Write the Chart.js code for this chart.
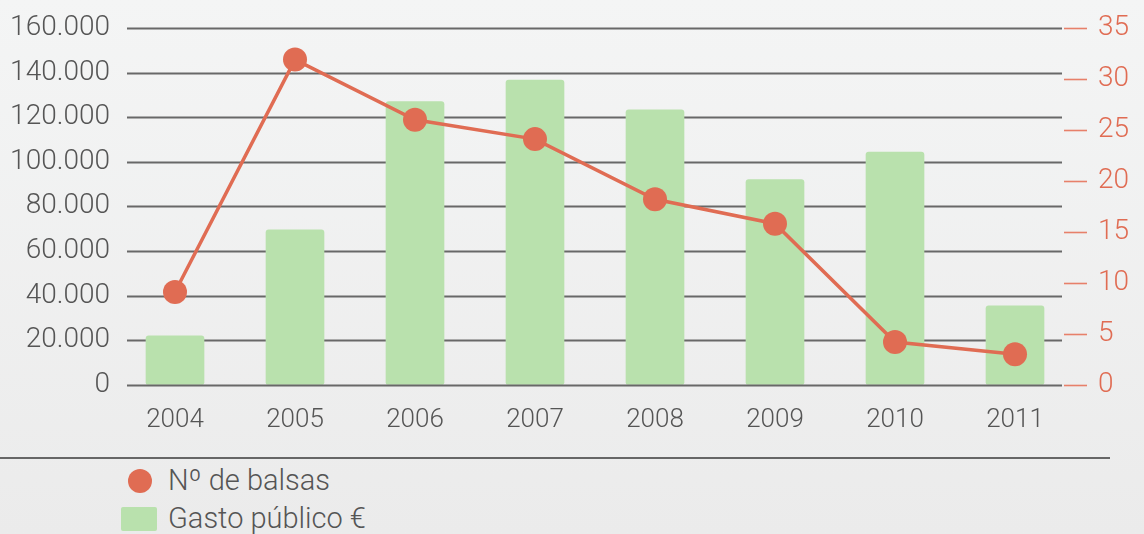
<!DOCTYPE html>
<html>
<head>
<meta charset="utf-8">
<script src="https://cdn.jsdelivr.net/npm/chart.js@4/dist/chart.umd.min.js"></script>
<style>
  html, body { margin: 0; padding: 0; }
  body {
    width: 1144px; height: 534px; overflow: hidden;
    background: linear-gradient(#f4f5f5, #ebebeb);
    font-family: Roboto, sans-serif; position: relative;
  }
  #wrap { position: absolute; left: 0; top: 0; width: 1144px; height: 458px; }
  #sep { position: absolute; left: 0; top: 457px; width: 1110px; height: 0; border-top: 2px solid #666; }
  .leg { position: absolute; font: 300 29px Roboto, sans-serif; color: #555; white-space: nowrap; }
  .dot { position: absolute; width: 24px; height: 24px; border-radius: 50%; background: #e06c53; }
  .sq { position: absolute; width: 36px; height: 24px; border-radius: 2px; background: #b9e1ad; }
</style>
</head>
<body>
<div id="wrap"><canvas id="c" width="1144" height="458"></canvas></div>
<div id="sep"></div>
<div class="dot" style="left:128px; top:469px;"></div>
<div class="leg" style="left:168px; top:463px;">Nº de balsas</div>
<div class="sq" style="left:121px; top:507px;"></div>
<div class="leg" style="left:168px; top:501px;">Gasto público €</div>
<script>
const categories = ['2004','2005','2006','2007','2008','2009','2010','2011'];
const gastoPublico = [22000, 69500, 127000, 136700, 123300, 92000, 104400, 35400];
const numBalsas = [9.1, 31.9, 26, 24.1, 18.2, 15.8, 4.2, 3.0];
const leftTicks = [0, 20000, 40000, 60000, 80000, 100000, 120000, 140000, 160000];
const rightTicks = [0, 5, 10, 15, 20, 25, 30, 35];

const ORANGE = '#e06c53';
const GREEN = '#b9e1ad';
const TEXT = '#555555';
const GRID = '#686868';

function fmt(v) { return v.toString().replace(/\B(?=(\d{3})+(?!\d))/g, '.'); }

const gridPlugin = {
  id: 'customGrid',
  beforeDatasetsDraw(chart) {
    const ctx = chart.ctx, y = chart.scales.y;
    ctx.save();
    ctx.strokeStyle = GRID; ctx.lineWidth = 2;
    leftTicks.forEach(t => {
      if (t === 0) return;
      const py = Math.round(y.getPixelForValue(t)) + 0.5;
      ctx.beginPath(); ctx.moveTo(127, py); ctx.lineTo(1062, py); ctx.stroke();
    });
    const y2 = chart.scales.y2;
    ctx.strokeStyle = '#e7806a'; ctx.lineWidth = 1.6;
    rightTicks.forEach(t => {
      const py = Math.round(y2.getPixelForValue(t)) + 0.5;
      ctx.beginPath(); ctx.moveTo(1064, py); ctx.lineTo(1087, py); ctx.stroke();
    });
    ctx.restore();
  },
  afterDatasetDraw(chart, args) {
    if (args.index !== 0) return;
    const ctx = chart.ctx, y = chart.scales.y;
    const py = Math.round(y.getPixelForValue(0)) + 0.5;
    ctx.save();
    ctx.strokeStyle = GRID; ctx.lineWidth = 2;
    ctx.beginPath(); ctx.moveTo(127, py); ctx.lineTo(1062, py); ctx.stroke();
    ctx.restore();
  }
};

function fitY(width) {
  return function (s) { s.width = width; s.paddingTop = 0; s.paddingBottom = 0; };
}

new Chart(document.getElementById('c'), {
  data: {
    labels: categories,
    datasets: [
      {
        type: 'bar', label: 'Gasto público €', data: gastoPublico, yAxisID: 'y',
        backgroundColor: GREEN, barThickness: 58, borderRadius: 3, borderSkipped: false, order: 2
      },
      {
        type: 'line', label: 'Nº de balsas', data: numBalsas, yAxisID: 'y2',
        borderColor: ORANGE, backgroundColor: ORANGE, borderWidth: 3.5,
        pointRadius: 12, pointHoverRadius: 12, pointBackgroundColor: ORANGE, pointBorderWidth: 0,
        tension: 0, order: 1
      }
    ]
  },
  options: {
    responsive: false, animation: false,
    layout: { padding: { top: 28, bottom: 2, left: 0, right: 0 } },
    plugins: { legend: { display: false }, tooltip: { enabled: false } },
    scales: {
      x: {
        offset: true,
        grid: { display: false, drawTicks: false },
        border: { display: false },
        afterFit(s) { s.paddingLeft = 0; s.paddingRight = 0; },
        ticks: { color: TEXT, font: { family: 'Roboto', size: 26, weight: 300 }, padding: 20 }
      },
      y: {
        position: 'left', min: 0, max: 160000,
        afterBuildTicks(s) { s.ticks = leftTicks.map(v => ({ value: v })); },
        afterFit: fitY(115),
        grid: { display: false, drawTicks: false },
        border: { display: false },
        ticks: { color: TEXT, font: { family: 'Roboto', size: 28, weight: 300 }, padding: 5, callback: v => fmt(v) }
      },
      y2: {
        position: 'right', min: 0, max: 35,
        afterBuildTicks(s) { s.ticks = rightTicks.map(v => ({ value: v })); },
        afterFit: fitY(69),
        grid: { display: false, drawTicks: false },
        border: { display: false },
        ticks: { color: ORANGE, font: { family: 'Roboto', size: 28, weight: 300 }, padding: 23 }
      }
    }
  },
  plugins: [gridPlugin]
});
</script>
</body>
</html>
